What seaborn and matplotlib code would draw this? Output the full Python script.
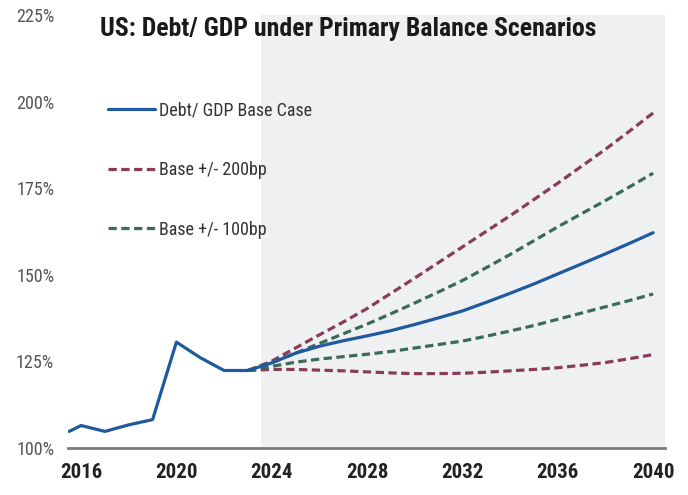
import matplotlib
matplotlib.use("Agg")
import matplotlib.pyplot as plt
from matplotlib import font_manager
import seaborn as sns
import pandas as pd

# Historical Debt/GDP (%)
hist_years = [2015.5, 2016, 2017, 2018, 2019, 2020, 2021, 2022, 2023]
hist_debt = [104.7, 106.4, 104.7, 106.6, 108.1, 130.5, 126.0, 122.3, 122.3]

# Projections 2023-2040 (%)
proj_years = list(range(2023, 2041))
base_case = [122.3, 124.5, 127.3, 129.3, 130.9, 132.3, 133.8, 135.6, 137.5,
             139.5, 142.0, 144.6, 147.3, 150.2, 153.1, 156.0, 159.0, 162.1]
up_200bp = [122.3, 125.0, 128.8, 132.6, 136.3, 140.2, 144.6, 149.0, 153.5,
            158.0, 162.5, 167.0, 171.7, 176.4, 181.3, 186.2, 191.4, 196.7]
up_100bp = [122.3, 124.6, 127.3, 130.1, 132.9, 135.7, 138.7, 141.8, 145.0,
            148.3, 152.0, 155.8, 159.8, 163.8, 167.6, 171.4, 175.3, 179.3]
down_100bp = [122.3, 123.5, 124.7, 125.6, 126.3, 127.0, 127.8, 128.8, 129.8,
              130.8, 132.2, 133.7, 135.3, 137.1, 138.9, 140.7, 142.5, 144.4]
down_200bp = [122.3, 122.6, 122.6, 122.4, 122.2, 121.9, 121.6, 121.4, 121.4,
              121.5, 121.8, 122.2, 122.6, 123.1, 123.8, 124.6, 125.7, 126.9]

x_ticks = [2016, 2020, 2024, 2028, 2032, 2036, 2040]
y_ticks = [100, 125, 150, 175, 200, 225]

title = "US: Debt/ GDP under Primary Balance Scenarios"
label_base = "Debt/ GDP Base Case"
label_200 = "Base +/- 200bp"
label_100 = "Base +/- 100bp"

BLUE = "#1f5a9e"
MAROON = "#8a3b58"
GREEN = "#3a6b58"
SHADE = "#eef0f2"

sns.set_theme(style="white")

# pick a narrow sans face if one is present
available = {f.name for f in font_manager.fontManager.ttflist}
condensed_dejavu = any(f.name == "DejaVu Sans" and f.stretch == "condensed"
                       for f in font_manager.fontManager.ttflist)
narrow_family = None
for cand in ["Roboto Condensed", "Liberation Sans Narrow",
             "Open Sans Condensed", "Noto Sans Condensed"]:
    if cand in available:
        narrow_family = cand
        break
if narrow_family is not None:
    FAMILY = [narrow_family, "DejaVu Sans"]
    STRETCH = "normal"
    SCALE = 1.0
elif condensed_dejavu:
    FAMILY = ["DejaVu Sans"]
    STRETCH = "condensed"
    SCALE = 0.9
else:
    FAMILY = ["Roboto", "DejaVu Sans"]
    STRETCH = "normal"
    SCALE = 0.8
plt.rcParams["font.family"] = FAMILY
plt.rcParams["font.stretch"] = STRETCH

fig = plt.figure(figsize=(6.88, 4.95), dpi=100)
ax = fig.add_axes([0.0988, 0.0956, 0.8678, 0.8741])

# projection period shading
ax.axvspan(2023.55, 2040.6, color=SHADE, lw=0, zorder=0)

hist = pd.DataFrame({"year": hist_years, "debt": hist_debt})
proj = pd.DataFrame({
    "year": proj_years,
    "base": base_case,
    "up200": up_200bp,
    "up100": up_100bp,
    "dn100": down_100bp,
    "dn200": down_200bp,
})

dash = (2.6, 1.4)
lw = 2.3


def draw(col, color, z, dashed):
    sns.lineplot(data=proj, x="year", y=col, ax=ax, color=color, lw=lw,
                 zorder=z)
    line = ax.lines[-1]
    if dashed:
        line.set_dashes(dash)
    return line


draw("dn200", MAROON, 2, True)
h200 = draw("up200", MAROON, 2, True)
draw("dn100", GREEN, 3, True)
h100 = draw("up100", GREEN, 3, True)
hbase = draw("base", BLUE, 4, False)
sns.lineplot(data=hist, x="year", y="debt", ax=ax, color=BLUE, lw=lw,
             zorder=4)

ax.set_xlim(2015.45, 2040.5)
ax.set_ylim(100, 225)
ax.set_xticks(x_ticks)
ax.set_xticklabels([str(t) for t in x_ticks], fontsize=15 * SCALE,
                   fontweight="bold", color="#222222")
ax.set_yticks(y_ticks)
ax.set_yticklabels([f"{t}%" for t in y_ticks], fontsize=13 * SCALE,
                   color="#555555")
ax.tick_params(axis="x", length=0, pad=11)
ax.tick_params(axis="y", length=0, pad=10)
ax.set_xlabel("")
ax.set_ylabel("")
for side in ["top", "right", "left"]:
    ax.spines[side].set_visible(False)
ax.spines["bottom"].set_color("#7a7a7a")
ax.spines["bottom"].set_linewidth(2.0)
ax.set_facecolor("white")

leg = ax.legend([hbase, h200, h100], [label_base, label_200, label_100],
                loc="upper left", bbox_to_anchor=(0.067, 0.80),
                frameon=False, fontsize=13 * SCALE, handlelength=2.6 / SCALE,
                handletextpad=0.2, labelspacing=2.3 / SCALE, borderpad=0,
                borderaxespad=0)
for t in leg.get_texts():
    t.set_color("#333333")

fig.text(0.145, 0.941, title, fontsize=18.5 * SCALE, fontweight="bold",
         color="#1a1a1a", va="center", ha="left")

fig.savefig("out.png", dpi=100)
